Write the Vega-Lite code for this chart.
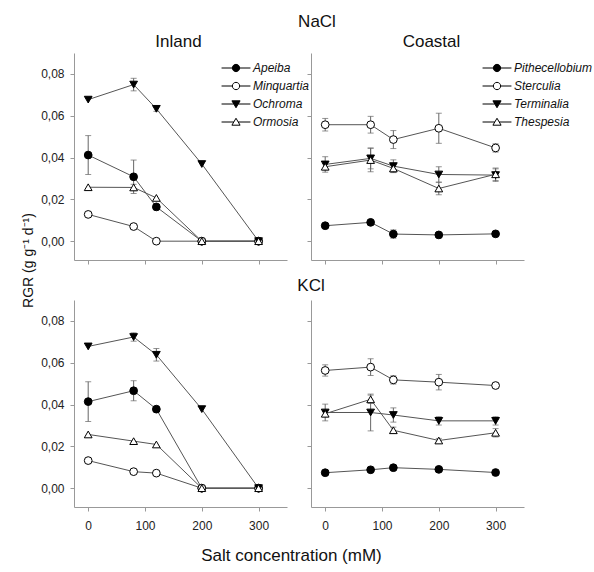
{
  "$schema": "https://vega.github.io/schema/vega-lite/v6.json",
  "padding": {"left": 21, "top": 13, "right": 5, "bottom": 5},
  "title": {"text": "NaCl", "anchor": "middle", "offset": 2, "dx": 10},
  "datasets": {
    "d": [
      {"salt": "NaCl", "site": "Inland", "species": "Apeiba", "conc": 0, "rgr": 0.0412, "err": 0.0093},
      {"salt": "NaCl", "site": "Inland", "species": "Apeiba", "conc": 80, "rgr": 0.0308, "err": 0.008},
      {"salt": "NaCl", "site": "Inland", "species": "Apeiba", "conc": 120, "rgr": 0.0164, "err": 0},
      {"salt": "NaCl", "site": "Inland", "species": "Apeiba", "conc": 200, "rgr": 0, "err": 0},
      {"salt": "NaCl", "site": "Inland", "species": "Apeiba", "conc": 300, "rgr": 0, "err": 0},
      {"salt": "NaCl", "site": "Inland", "species": "Minquartia", "conc": 0, "rgr": 0.0128, "err": 0},
      {"salt": "NaCl", "site": "Inland", "species": "Minquartia", "conc": 80, "rgr": 0.007, "err": 0},
      {"salt": "NaCl", "site": "Inland", "species": "Minquartia", "conc": 120, "rgr": 0, "err": 0},
      {"salt": "NaCl", "site": "Inland", "species": "Minquartia", "conc": 200, "rgr": 0, "err": 0},
      {"salt": "NaCl", "site": "Inland", "species": "Minquartia", "conc": 300, "rgr": 0, "err": 0},
      {"salt": "NaCl", "site": "Inland", "species": "Ochroma", "conc": 0, "rgr": 0.0677, "err": 0},
      {"salt": "NaCl", "site": "Inland", "species": "Ochroma", "conc": 80, "rgr": 0.0749, "err": 0.003},
      {"salt": "NaCl", "site": "Inland", "species": "Ochroma", "conc": 120, "rgr": 0.0633, "err": 0.0012},
      {"salt": "NaCl", "site": "Inland", "species": "Ochroma", "conc": 200, "rgr": 0.0369, "err": 0},
      {"salt": "NaCl", "site": "Inland", "species": "Ochroma", "conc": 300, "rgr": 0, "err": 0},
      {"salt": "NaCl", "site": "Inland", "species": "Ormosia", "conc": 0, "rgr": 0.0258, "err": 0},
      {"salt": "NaCl", "site": "Inland", "species": "Ormosia", "conc": 80, "rgr": 0.0257, "err": 0.0015},
      {"salt": "NaCl", "site": "Inland", "species": "Ormosia", "conc": 120, "rgr": 0.0207, "err": 0},
      {"salt": "NaCl", "site": "Inland", "species": "Ormosia", "conc": 200, "rgr": 0, "err": 0},
      {"salt": "NaCl", "site": "Inland", "species": "Ormosia", "conc": 300, "rgr": 0, "err": 0},

      {"salt": "NaCl", "site": "Coastal", "species": "Pithecellobium", "conc": 0, "rgr": 0.0074, "err": 0},
      {"salt": "NaCl", "site": "Coastal", "species": "Pithecellobium", "conc": 80, "rgr": 0.009, "err": 0},
      {"salt": "NaCl", "site": "Coastal", "species": "Pithecellobium", "conc": 120, "rgr": 0.0034, "err": 0.002},
      {"salt": "NaCl", "site": "Coastal", "species": "Pithecellobium", "conc": 200, "rgr": 0.003, "err": 0},
      {"salt": "NaCl", "site": "Coastal", "species": "Pithecellobium", "conc": 300, "rgr": 0.0035, "err": 0},
      {"salt": "NaCl", "site": "Coastal", "species": "Sterculia", "conc": 0, "rgr": 0.0557, "err": 0.003},
      {"salt": "NaCl", "site": "Coastal", "species": "Sterculia", "conc": 80, "rgr": 0.0557, "err": 0.004},
      {"salt": "NaCl", "site": "Coastal", "species": "Sterculia", "conc": 120, "rgr": 0.0486, "err": 0.0043},
      {"salt": "NaCl", "site": "Coastal", "species": "Sterculia", "conc": 200, "rgr": 0.054, "err": 0.0072},
      {"salt": "NaCl", "site": "Coastal", "species": "Sterculia", "conc": 300, "rgr": 0.0446, "err": 0.002},
      {"salt": "NaCl", "site": "Coastal", "species": "Terminalia", "conc": 0, "rgr": 0.0367, "err": 0.0037},
      {"salt": "NaCl", "site": "Coastal", "species": "Terminalia", "conc": 80, "rgr": 0.0396, "err": 0.005},
      {"salt": "NaCl", "site": "Coastal", "species": "Terminalia", "conc": 120, "rgr": 0.0359, "err": 0.003},
      {"salt": "NaCl", "site": "Coastal", "species": "Terminalia", "conc": 200, "rgr": 0.0319, "err": 0.0037},
      {"salt": "NaCl", "site": "Coastal", "species": "Terminalia", "conc": 300, "rgr": 0.0316, "err": 0.003},
      {"salt": "NaCl", "site": "Coastal", "species": "Thespesia", "conc": 0, "rgr": 0.0356, "err": 0.0015},
      {"salt": "NaCl", "site": "Coastal", "species": "Thespesia", "conc": 80, "rgr": 0.0388, "err": 0.0056},
      {"salt": "NaCl", "site": "Coastal", "species": "Thespesia", "conc": 120, "rgr": 0.0348, "err": 0.002},
      {"salt": "NaCl", "site": "Coastal", "species": "Thespesia", "conc": 200, "rgr": 0.0252, "err": 0.003},
      {"salt": "NaCl", "site": "Coastal", "species": "Thespesia", "conc": 300, "rgr": 0.032, "err": 0.003},

      {"salt": "KCl", "site": "Inland", "species": "Apeiba", "conc": 0, "rgr": 0.0414, "err": 0.0095},
      {"salt": "KCl", "site": "Inland", "species": "Apeiba", "conc": 80, "rgr": 0.0466, "err": 0.0048},
      {"salt": "KCl", "site": "Inland", "species": "Apeiba", "conc": 120, "rgr": 0.0378, "err": 0},
      {"salt": "KCl", "site": "Inland", "species": "Apeiba", "conc": 200, "rgr": 0, "err": 0},
      {"salt": "KCl", "site": "Inland", "species": "Apeiba", "conc": 300, "rgr": 0, "err": 0},
      {"salt": "KCl", "site": "Inland", "species": "Minquartia", "conc": 0, "rgr": 0.0132, "err": 0},
      {"salt": "KCl", "site": "Inland", "species": "Minquartia", "conc": 80, "rgr": 0.0079, "err": 0},
      {"salt": "KCl", "site": "Inland", "species": "Minquartia", "conc": 120, "rgr": 0.0072, "err": 0},
      {"salt": "KCl", "site": "Inland", "species": "Minquartia", "conc": 200, "rgr": 0, "err": 0},
      {"salt": "KCl", "site": "Inland", "species": "Minquartia", "conc": 300, "rgr": 0, "err": 0},
      {"salt": "KCl", "site": "Inland", "species": "Ochroma", "conc": 0, "rgr": 0.0678, "err": 0},
      {"salt": "KCl", "site": "Inland", "species": "Ochroma", "conc": 80, "rgr": 0.0723, "err": 0.002},
      {"salt": "KCl", "site": "Inland", "species": "Ochroma", "conc": 120, "rgr": 0.0638, "err": 0.003},
      {"salt": "KCl", "site": "Inland", "species": "Ochroma", "conc": 200, "rgr": 0.0378, "err": 0},
      {"salt": "KCl", "site": "Inland", "species": "Ochroma", "conc": 300, "rgr": 0, "err": 0},
      {"salt": "KCl", "site": "Inland", "species": "Ormosia", "conc": 0, "rgr": 0.0257, "err": 0},
      {"salt": "KCl", "site": "Inland", "species": "Ormosia", "conc": 80, "rgr": 0.0225, "err": 0},
      {"salt": "KCl", "site": "Inland", "species": "Ormosia", "conc": 120, "rgr": 0.0209, "err": 0},
      {"salt": "KCl", "site": "Inland", "species": "Ormosia", "conc": 200, "rgr": 0, "err": 0},
      {"salt": "KCl", "site": "Inland", "species": "Ormosia", "conc": 300, "rgr": 0, "err": 0},

      {"salt": "KCl", "site": "Coastal", "species": "Pithecellobium", "conc": 0, "rgr": 0.0074, "err": 0},
      {"salt": "KCl", "site": "Coastal", "species": "Pithecellobium", "conc": 80, "rgr": 0.0088, "err": 0},
      {"salt": "KCl", "site": "Coastal", "species": "Pithecellobium", "conc": 120, "rgr": 0.0098, "err": 0},
      {"salt": "KCl", "site": "Coastal", "species": "Pithecellobium", "conc": 200, "rgr": 0.009, "err": 0},
      {"salt": "KCl", "site": "Coastal", "species": "Pithecellobium", "conc": 300, "rgr": 0.0075, "err": 0},
      {"salt": "KCl", "site": "Coastal", "species": "Sterculia", "conc": 0, "rgr": 0.0563, "err": 0.0027},
      {"salt": "KCl", "site": "Coastal", "species": "Sterculia", "conc": 80, "rgr": 0.0579, "err": 0.004},
      {"salt": "KCl", "site": "Coastal", "species": "Sterculia", "conc": 120, "rgr": 0.0518, "err": 0.002},
      {"salt": "KCl", "site": "Coastal", "species": "Sterculia", "conc": 200, "rgr": 0.0507, "err": 0.0037},
      {"salt": "KCl", "site": "Coastal", "species": "Sterculia", "conc": 300, "rgr": 0.0491, "err": 0.001},
      {"salt": "KCl", "site": "Coastal", "species": "Terminalia", "conc": 0, "rgr": 0.0362, "err": 0.004},
      {"salt": "KCl", "site": "Coastal", "species": "Terminalia", "conc": 80, "rgr": 0.0362, "err": 0.0088},
      {"salt": "KCl", "site": "Coastal", "species": "Terminalia", "conc": 120, "rgr": 0.035, "err": 0.0034},
      {"salt": "KCl", "site": "Coastal", "species": "Terminalia", "conc": 200, "rgr": 0.0322, "err": 0.002},
      {"salt": "KCl", "site": "Coastal", "species": "Terminalia", "conc": 300, "rgr": 0.0322, "err": 0.002},
      {"salt": "KCl", "site": "Coastal", "species": "Thespesia", "conc": 0, "rgr": 0.0356, "err": 0.0015},
      {"salt": "KCl", "site": "Coastal", "species": "Thespesia", "conc": 80, "rgr": 0.0425, "err": 0.002},
      {"salt": "KCl", "site": "Coastal", "species": "Thespesia", "conc": 120, "rgr": 0.0277, "err": 0.0015},
      {"salt": "KCl", "site": "Coastal", "species": "Thespesia", "conc": 200, "rgr": 0.0228, "err": 0.001},
      {"salt": "KCl", "site": "Coastal", "species": "Thespesia", "conc": 300, "rgr": 0.0265, "err": 0.002}
    ]
  },
  "columns": 2,
  "spacing": {"row": 40, "column": 24},
  "bounds": "flush",
  "concat": [
    {
      "width": 213, "height": 207,
      "title": {"text": "Inland", "frame": "group", "dx": -2, "offset": 2},
      "data": {"name": "d"},
      "transform": [{"filter": "datum.salt === 'NaCl' && datum.site === 'Inland'"}],
      "encoding": {
        "x": {"field": "conc", "type": "quantitative", "scale": {"domain": [-25, 350], "nice": false, "zero": false}, "axis": {"values": [0, 100, 200, 300], "labels": false, "title": null}},
        "y": {"field": "rgr", "type": "quantitative", "scale": {"domain": [-0.009, 0.09], "nice": false, "zero": false}, "axis": {"values": [0, 0.02, 0.04, 0.06, 0.08], "format": ".2f", "title": "RGR (g g⁻¹ d⁻¹)", "titleX": -42, "titleY": 207, "titleAlign": "center", "titleBaseline": "alphabetic", "titleAngle": -90, "titleFontSize": 14}}
      },
      "layer": [
        {"mark": {"type": "line", "color": "#555", "strokeWidth": 1}, "encoding": {"detail": {"field": "species"}}},
        {"transform": [{"filter": "datum.err > 0"}], "mark": {"type": "errorbar", "ticks": {"size": 6}, "color": "#666"}, "encoding": {"yError": {"field": "err"}}},
        {"mark": {"type": "point", "filled": true, "stroke": "#000", "strokeWidth": 1, "size": 60, "opacity": 1},
         "encoding": {
           "shape": {"field": "species", "type": "nominal", "scale": {"domain": ["Apeiba", "Minquartia", "Ochroma", "Ormosia"], "range": ["circle", "circle", "triangle-down", "triangle-up"]}, "legend": null},
           "fill": {"field": "species", "type": "nominal", "scale": {"domain": ["Apeiba", "Minquartia", "Ochroma", "Ormosia"], "range": ["#000", "#fff", "#000", "#fff"]}, "legend": null}
         }},
        {"mark": {"type": "point", "filled": true, "stroke": "#000", "strokeWidth": 1, "opacity": 0},
         "encoding": {
           "shape": {"field": "species", "type": "nominal", "scale": {"domain": ["Apeiba", "Minquartia", "Ochroma", "Ormosia"], "range": ["M-1.7,0L-0.43,0M0.43,0L1.7,0M-0.43,0A0.43,0.43,0,1,1,0.43,0A0.43,0.43,0,1,1,-0.43,0Z", "M-1.7,0L-0.43,0M0.43,0L1.7,0M-0.43,0A0.43,0.43,0,1,1,0.43,0A0.43,0.43,0,1,1,-0.43,0Z", "M-1.7,0L-0.26,0M0.26,0L1.7,0M-0.48,-0.375L0.48,-0.375L0,0.44Z", "M-1.7,0L-0.26,0M0.26,0L1.7,0M-0.48,0.375L0.48,0.375L0,-0.44Z"]},
             "legend": {"orient": "none", "legendX": 153, "legendY": 6, "title": null, "encode": {"symbols": {"update": {"stroke": {"value": "#000"}, "strokeWidth": {"value": 1}, "opacity": {"value": 1}}}}}},
           "fill": {"field": "species", "type": "nominal", "scale": {"domain": ["Apeiba", "Minquartia", "Ochroma", "Ormosia"], "range": ["#000", "#fff", "#000", "#fff"]},
             "legend": {"orient": "none", "legendX": 153, "legendY": 6, "title": null, "encode": {"symbols": {"update": {"stroke": {"value": "#000"}, "strokeWidth": {"value": 1}, "opacity": {"value": 1}}}}}}
         }},
        {"data": {"values": [{"label": "NaCl"}]}, "mark": {"type": "text", "align": "left", "baseline": "middle", "fontSize": 12, "color": "#111"},
         "encoding": {"text": {"field": "label"}, "x": {"datum": -7}, "y": {"datum": 0.0838}}}
      ],
      "resolve": {"scale": {"shape": "independent", "fill": "independent"}}
    },
    {
      "width": 213, "height": 207,
      "title": {"text": "Coastal", "frame": "group", "dx": 14, "offset": 2},
      "data": {"name": "d"},
      "transform": [{"filter": "datum.salt === 'NaCl' && datum.site === 'Coastal'"}],
      "encoding": {
        "x": {"field": "conc", "type": "quantitative", "scale": {"domain": [-25, 350], "nice": false, "zero": false}, "axis": {"values": [0, 100, 200, 300], "labels": false, "title": null}},
        "y": {"field": "rgr", "type": "quantitative", "scale": {"domain": [-0.009, 0.09], "nice": false, "zero": false}, "axis": {"values": [0, 0.02, 0.04, 0.06, 0.08], "labels": false, "title": null}}
      },
      "layer": [
        {"mark": {"type": "line", "color": "#555", "strokeWidth": 1}, "encoding": {"detail": {"field": "species"}}},
        {"transform": [{"filter": "datum.err > 0"}], "mark": {"type": "errorbar", "ticks": {"size": 6}, "color": "#666"}, "encoding": {"yError": {"field": "err"}}},
        {"mark": {"type": "point", "filled": true, "stroke": "#000", "strokeWidth": 1, "size": 60, "opacity": 1},
         "encoding": {
           "shape": {"field": "species", "type": "nominal", "scale": {"domain": ["Pithecellobium", "Sterculia", "Terminalia", "Thespesia"], "range": ["circle", "circle", "triangle-down", "triangle-up"]}, "legend": null},
           "fill": {"field": "species", "type": "nominal", "scale": {"domain": ["Pithecellobium", "Sterculia", "Terminalia", "Thespesia"], "range": ["#000", "#fff", "#000", "#fff"]}, "legend": null}
         }},
        {"mark": {"type": "point", "filled": true, "stroke": "#000", "strokeWidth": 1, "opacity": 0},
         "encoding": {
           "shape": {"field": "species", "type": "nominal", "scale": {"domain": ["Pithecellobium", "Sterculia", "Terminalia", "Thespesia"], "range": ["M-1.7,0L-0.43,0M0.43,0L1.7,0M-0.43,0A0.43,0.43,0,1,1,0.43,0A0.43,0.43,0,1,1,-0.43,0Z", "M-1.7,0L-0.43,0M0.43,0L1.7,0M-0.43,0A0.43,0.43,0,1,1,0.43,0A0.43,0.43,0,1,1,-0.43,0Z", "M-1.7,0L-0.26,0M0.26,0L1.7,0M-0.48,-0.375L0.48,-0.375L0,0.44Z", "M-1.7,0L-0.26,0M0.26,0L1.7,0M-0.48,0.375L0.48,0.375L0,-0.44Z"]},
             "legend": {"orient": "none", "legendX": 177, "legendY": 6, "title": null, "encode": {"symbols": {"update": {"stroke": {"value": "#000"}, "strokeWidth": {"value": 1}, "opacity": {"value": 1}}}}}},
           "fill": {"field": "species", "type": "nominal", "scale": {"domain": ["Pithecellobium", "Sterculia", "Terminalia", "Thespesia"], "range": ["#000", "#fff", "#000", "#fff"]},
             "legend": {"orient": "none", "legendX": 177, "legendY": 6, "title": null, "encode": {"symbols": {"update": {"stroke": {"value": "#000"}, "strokeWidth": {"value": 1}, "opacity": {"value": 1}}}}}}
         }}
      ],
      "resolve": {"scale": {"shape": "independent", "fill": "independent"}}
    },
    {
      "width": 213, "height": 207,
      "title": {"text": "KCl", "frame": "group", "anchor": "end", "align": "center", "dx": 24, "offset": 5},
      "data": {"name": "d"},
      "transform": [{"filter": "datum.salt === 'KCl' && datum.site === 'Inland'"}],
      "encoding": {
        "x": {"field": "conc", "type": "quantitative", "scale": {"domain": [-25, 350], "nice": false, "zero": false}, "axis": {"values": [0, 100, 200, 300], "title": "Salt concentration (mM)", "titleX": 217, "titleY": 53, "titleAlign": "center", "titleBaseline": "alphabetic", "titleFontSize": 17}},
        "y": {"field": "rgr", "type": "quantitative", "scale": {"domain": [-0.009, 0.09], "nice": false, "zero": false}, "axis": {"values": [0, 0.02, 0.04, 0.06, 0.08], "format": ".2f", "title": null}}
      },
      "layer": [
        {"mark": {"type": "line", "color": "#555", "strokeWidth": 1}, "encoding": {"detail": {"field": "species"}}},
        {"transform": [{"filter": "datum.err > 0"}], "mark": {"type": "errorbar", "ticks": {"size": 6}, "color": "#666"}, "encoding": {"yError": {"field": "err"}}},
        {"mark": {"type": "point", "filled": true, "stroke": "#000", "strokeWidth": 1, "size": 60, "opacity": 1},
         "encoding": {
           "shape": {"field": "species", "type": "nominal", "scale": {"domain": ["Apeiba", "Minquartia", "Ochroma", "Ormosia"], "range": ["circle", "circle", "triangle-down", "triangle-up"]}, "legend": null},
           "fill": {"field": "species", "type": "nominal", "scale": {"domain": ["Apeiba", "Minquartia", "Ochroma", "Ormosia"], "range": ["#000", "#fff", "#000", "#fff"]}, "legend": null}
         }}
      ]
    },
    {
      "width": 213, "height": 207,
      "data": {"name": "d"},
      "transform": [{"filter": "datum.salt === 'KCl' && datum.site === 'Coastal'"}],
      "encoding": {
        "x": {"field": "conc", "type": "quantitative", "scale": {"domain": [-25, 350], "nice": false, "zero": false}, "axis": {"values": [0, 100, 200, 300], "title": null}},
        "y": {"field": "rgr", "type": "quantitative", "scale": {"domain": [-0.009, 0.09], "nice": false, "zero": false}, "axis": {"values": [0, 0.02, 0.04, 0.06, 0.08], "labels": false, "title": null}}
      },
      "layer": [
        {"mark": {"type": "line", "color": "#555", "strokeWidth": 1}, "encoding": {"detail": {"field": "species"}}},
        {"transform": [{"filter": "datum.err > 0"}], "mark": {"type": "errorbar", "ticks": {"size": 6}, "color": "#666"}, "encoding": {"yError": {"field": "err"}}},
        {"mark": {"type": "point", "filled": true, "stroke": "#000", "strokeWidth": 1, "size": 60, "opacity": 1},
         "encoding": {
           "shape": {"field": "species", "type": "nominal", "scale": {"domain": ["Pithecellobium", "Sterculia", "Terminalia", "Thespesia"], "range": ["circle", "circle", "triangle-down", "triangle-up"]}, "legend": null},
           "fill": {"field": "species", "type": "nominal", "scale": {"domain": ["Pithecellobium", "Sterculia", "Terminalia", "Thespesia"], "range": ["#000", "#fff", "#000", "#fff"]}, "legend": null}
         }}
      ]
    }
  ],
  "resolve": {"scale": {"x": "independent", "y": "independent", "shape": "independent", "fill": "independent"}, "legend": {"shape": "independent", "fill": "independent"}},
  "config": {
    "font": "Liberation Sans",
    "locale": {"number": {"decimal": ",", "thousands": ".", "grouping": [3], "currency": ["", ""]}},
    "view": {"stroke": null},
    "axis": {"domainColor": "#999", "tickColor": "#999", "tickSize": 4, "labelFontSize": 12, "labelColor": "#222", "grid": false, "titleFontWeight": "normal", "titleColor": "#111", "labelFont": "Liberation Sans", "titleFont": "Liberation Sans"},
    "axisY": {"labelPadding": 6},
    "axisX": {"labelPadding": 9},
    "title": {"fontSize": 17, "fontWeight": "normal", "color": "#111", "font": "Liberation Sans"},
    "legend": {"symbolSize": 289, "symbolOpacity": 1, "symbolStrokeColor": "#000", "symbolStrokeWidth": 1, "labelFont": "Liberation Sans", "labelFontStyle": "italic", "labelFontSize": 12, "labelColor": "#111", "labelOffset": 8, "rowPadding": 3, "symbolOffset": 0, "padding": 0}
  }
}
